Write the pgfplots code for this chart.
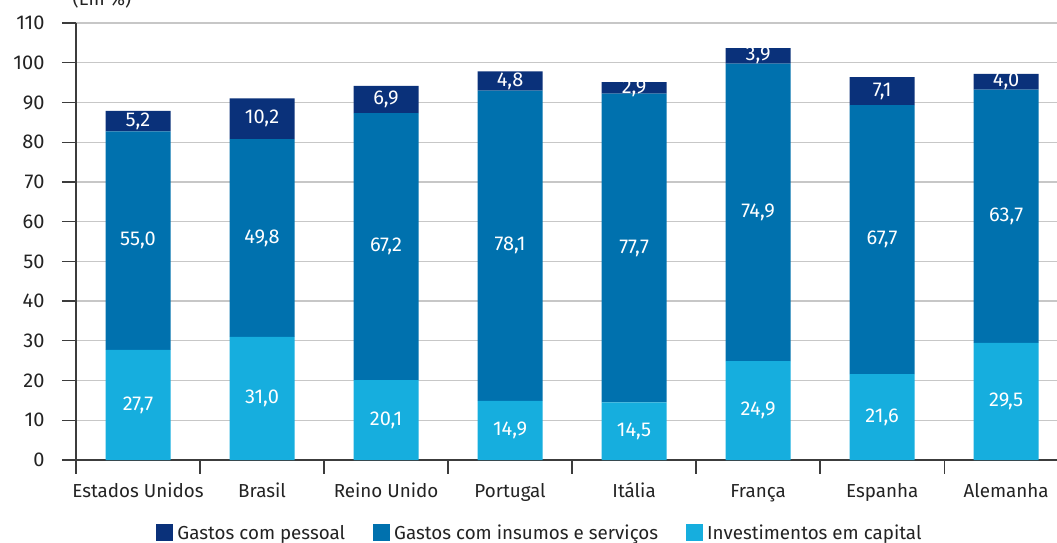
\documentclass[border=0pt]{standalone}
\usepackage{fontspec}
\setmainfont{Fira Sans}
\usepackage{pgfplots}
\usepackage{pgfplotstable}
\pgfplotsset{compat=1.18}
\definecolor{cdark}{RGB}{10,49,122}
\definecolor{cmid}{RGB}{0,113,174}
\definecolor{clight}{RGB}{22,174,222}
\definecolor{axgray}{RGB}{60,60,60}
\definecolor{txt}{RGB}{35,35,35}

\pgfplotstableread{
x capital insumos pessoal
0 27.7 55.0 5.2
1 31.0 49.8 10.2
2 20.1 67.2 6.9
3 14.9 78.1 4.8
4 14.5 77.7 2.9
5 24.9 74.9 3.9
6 21.6 67.7 7.1
7 29.5 63.7 4.0
}\data

\pgfplotstableread{
x y lab
0 13.85 27,7
1 15.5 31,0
2 10.05 20,1
3 7.45 14,9
4 7.25 14,5
5 12.45 24,9
6 10.8 21,6
7 14.75 29,5
0 55.2 55,0
1 55.9 49,8
2 53.7 67,2
3 53.95 78,1
4 53.35 77,7
5 62.35 74,9
6 55.45 67,7
7 61.35 63,7
0 85.3 5,2
1 85.9 10,2
2 90.75 6,9
3 95.4 4,8
4 93.65 2,9
5 101.75 3,9
6 92.85 7,1
7 95.2 4,0
}\labels

\newcommand{\fs}{\fontsize{18.8bp}{22bp}\selectfont}
\newcommand{\fn}{\fontsize{20bp}{23bp}\selectfont}

\begin{document}
\begin{tikzpicture}
\pgfplotsset{
  common/.style={
    name=#1, at={(0,0)}, anchor=south west,
    scale only axis, width=981bp, height=437bp,
    xmin=-0.5, xmax=7.41, ymin=0, ymax=110,
  }
}
\begin{axis}[
  common=ax,
  ybar stacked, bar width=65bp,
  axis x line*=bottom, axis y line*=left,
  axis line style={axgray, line width=1.3bp, -},
  ytick={0,10,...,110},
  ymajorgrids, grid style={black!22, line width=1.3bp},
  tick align=outside, major tick length=14bp,
  tick style={axgray, line width=1.3bp},
  xtick={-0.5,0.5,...,6.5}, xticklabel=\empty,
  extra x ticks={0,1,...,7},
  extra x tick labels={Estados Unidos,Brasil,Reino Unido,Portugal,Itália,França,Espanha,Alemanha},
  extra x tick style={major tick length=0pt, xticklabel style={font=\fs, yshift=-27bp, text height=0.72em, text depth=0.22em}},
  /pgf/number format/assume math mode=true,
  ticklabel style={font=\fn, text=txt},
  yticklabel style={xshift=-14bp},
  reverse legend,
  legend columns=3,
  legend style={at={(0.474,-0.167)}, anchor=center, draw=none, fill=none,
    font=\fs, text=txt,
    /tikz/every even column/.append style={column sep=24bp},
    nodes={inner sep=1bp, inner xsep=4bp}},
  legend image code/.code={\fill[#1] (0bp,-8.5bp) rectangle (17bp,8.5bp);},
]
\addplot[fill=clight, draw=none] table[x=x, y=capital]{\data};
\addlegendentry{Investimentos em capital}
\addplot[fill=cmid, draw=none] table[x=x, y=insumos]{\data};
\addlegendentry{Gastos com insumos e serviços}
\addplot[fill=cdark, draw=none] table[x=x, y=pessoal]{\data};
\addlegendentry{Gastos com pessoal}
\end{axis}
\begin{axis}[common=lab, hide axis]
\addplot[draw=none, mark=none, nodes near coords, point meta=explicit symbolic,
  every node near coord/.append style={anchor=center, text=white, font=\fn, inner sep=0pt}]
  table[x=x, y=y, meta=lab]{\labels};
\end{axis}
\node[anchor=base, font=\fs, text=txt] at (26bp,454bp) {(Em \%)};
\pgfresetboundingbox
\useasboundingbox (-76bp,-83bp) rectangle (981bp,460bp);
\end{tikzpicture}
\end{document}
